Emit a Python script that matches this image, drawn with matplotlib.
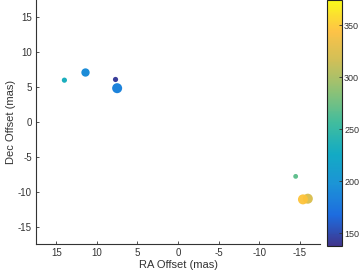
import numpy as np
import matplotlib
matplotlib.use("Agg")
import matplotlib.pyplot as plt
from matplotlib.colors import LinearSegmentedColormap

# Data
ra_offset = [14.0, 11.4, 7.7, 7.5, -14.5, -16.0, -15.4]
dec_offset = [6.0, 7.1, 6.1, 4.85, -7.8, -11.0, -11.1]
values = [232, 192, 143, 185, 268, 322, 346]
sizes = [14, 36, 14, 52, 12, 52, 52]
x_ticks = [15, 10, 5, 0, -5, -10, -15]
y_ticks = [-15, -10, -5, 0, 5, 10, 15]
cbar_ticks = [150, 200, 250, 300, 350]

parula_pts = [
    (0.2081, 0.1663, 0.5292),
    (0.0641, 0.3936, 0.8710),
    (0.0589, 0.5557, 0.8327),
    (0.0235, 0.6529, 0.7570),
    (0.2116, 0.7268, 0.5998),
    (0.5227, 0.7473, 0.4385),
    (0.8000, 0.7380, 0.3126),
    (0.9944, 0.7513, 0.2377),
    (0.9763, 0.9831, 0.0538),
]
parula = LinearSegmentedColormap.from_list("parula", parula_pts, N=256)

plt.rcParams['font.family'] = ['Liberation Sans', 'DejaVu Sans']
plt.rcParams['axes.unicode_minus'] = False
txt = '#333333'

fig = plt.figure(figsize=(3.61, 2.74), dpi=100)
ax = fig.add_axes([36/361, 30/274, (320-36)/361, 244/274])
sc = ax.scatter(ra_offset, dec_offset, s=sizes, c=values, cmap=parula,
                vmin=138, vmax=374, linewidths=0, alpha=0.95)
ax.set_xlim(17.5, -17.5)
ax.set_ylim(-17.5, 17.5)
ax.set_xticks(x_ticks)
ax.set_yticks(y_ticks)
for s in ['top', 'right']:
    ax.spines[s].set_visible(False)
for s in ['left', 'bottom']:
    ax.spines[s].set_color(txt)
    ax.spines[s].set_linewidth(0.8)
ax.tick_params(direction='in', length=2.5, width=0.6, colors=txt, labelsize=7, pad=3)
ax.set_xlabel('RA Offset (mas)', fontsize=8, color=txt, labelpad=1)
ax.set_ylabel('Dec Offset (mas)', fontsize=8, color=txt, labelpad=1)

cax = fig.add_axes([327/361, 28/274, 15/361, 246/274])
cb = fig.colorbar(sc, cax=cax)
cb.set_ticks(cbar_ticks)
cb.outline.set_linewidth(0.8)
cb.outline.set_edgecolor('#222222')
cax.tick_params(direction='in', length=2, width=0.6, colors=txt, labelsize=6.5, pad=1.5)

fig.savefig('out.png', dpi=100)
